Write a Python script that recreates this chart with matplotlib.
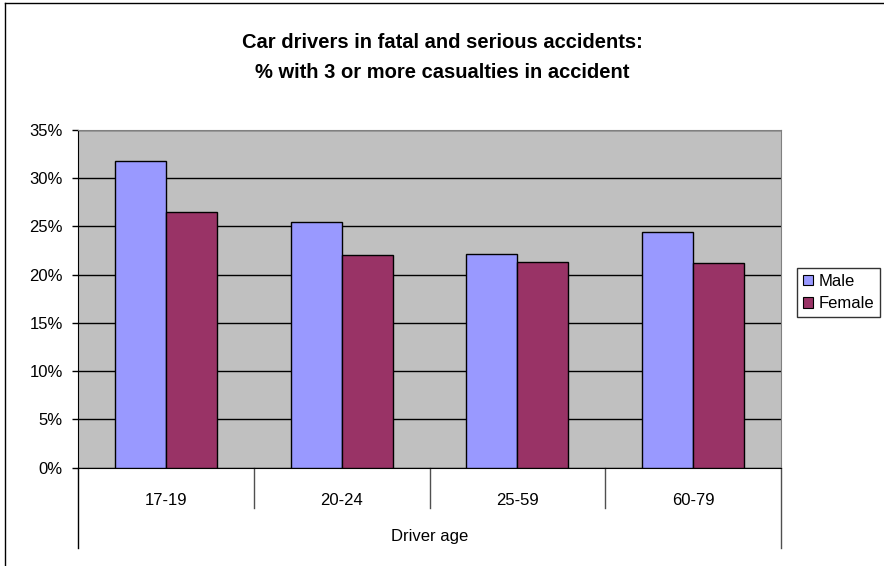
import matplotlib
matplotlib.use("Agg")
import matplotlib.pyplot as plt
import matplotlib.transforms as mtransforms
from matplotlib.lines import Line2D
import numpy as np

categories = ["17-19", "20-24", "25-59", "60-79"]
male = [0.318, 0.255, 0.222, 0.244]
female = [0.265, 0.220, 0.213, 0.212]
yticks = [0, 0.05, 0.10, 0.15, 0.20, 0.25, 0.30, 0.35]
ytick_labels = ["0%", "5%", "10%", "15%", "20%", "25%", "30%", "35%"]

plt.rcParams['font.family'] = ['Liberation Sans', 'DejaVu Sans']

W, H = 884, 566
fig = plt.figure(figsize=(W / 100, H / 100), dpi=100)
fig.patch.set_facecolor("white")

left, right, top, bottom = 78, 781, 130, 467.7
ax = fig.add_axes([left / W, 1 - bottom / H, (right - left) / W, (bottom - top) / H])
ax.set_facecolor("#C0C0C0")

x = np.arange(len(categories))
bw = 0.29
ax.bar(x - bw / 2, male, bw, color="#9999FF", edgecolor="black", linewidth=1.0, label="Male", zorder=3)
ax.bar(x + bw / 2, female, bw, color="#993366", edgecolor="black", linewidth=1.0, label="Female", zorder=3)

ax.set_xlim(-0.5, len(categories) - 0.5)
ax.set_ylim(0, 0.35)
ax.set_yticks(yticks)
ax.set_yticklabels(ytick_labels, fontsize=12)
ax.yaxis.grid(True, color="black", linewidth=1.0, zorder=1)
ax.set_axisbelow(True)
ax.tick_params(axis="y", length=4.5, width=1, pad=6.5, colors="black")

ax.set_xticks(x)
ax.set_xticklabels(categories, fontsize=12)
ax.tick_params(axis="x", length=0, pad=18)

for s in ["top", "right"]:
    ax.spines[s].set_color("#808080")
for s in ["left", "bottom"]:
    ax.spines[s].set_color("black")

# category separators below axis
trans = mtransforms.blended_transform_factory(ax.transData, ax.transAxes)
axh = bottom - top
for i in range(len(categories) + 1):
    xb = i - 0.5
    outer = i == 0 or i == len(categories)
    depth = (80 if outer else 40) / axh
    ax.plot([xb, xb], [0, -depth], transform=trans, color="black" if i == 0 else "#505050",
            linewidth=1.0, clip_on=False)

ax.set_xlabel("Driver age", fontsize=12, labelpad=15)

fig.text(0.5, 1 - 43 / H, "Car drivers in fatal and serious accidents:",
         ha="center", va="center", fontsize=14.5, fontweight="bold")
fig.text(0.5, 1 - 72 / H, "% with 3 or more casualties in accident",
         ha="center", va="center", fontsize=14.5, fontweight="bold")

leg = fig.legend(loc="upper left", bbox_to_anchor=(797 / W, 1 - 268 / H), fontsize=12,
                 frameon=True, fancybox=False, handlelength=0.6, handleheight=0.6,
                 handletextpad=0.35, borderpad=0.35, labelspacing=0.45, borderaxespad=0)
leg.get_frame().set_edgecolor("black")
leg.get_frame().set_linewidth(1.0)
for h in leg.legend_handles:
    h.set_linewidth(0.8)

# outer chart border (only left and top visible in reference)
fig.add_artist(Line2D([5 / W, 5 / W], [0, 1 - 3 / H], transform=fig.transFigure, color="black", linewidth=1.0))
fig.add_artist(Line2D([5 / W, 1], [1 - 3 / H, 1 - 3 / H], transform=fig.transFigure, color="black", linewidth=1.0))

fig.savefig("out.png", dpi=100)
